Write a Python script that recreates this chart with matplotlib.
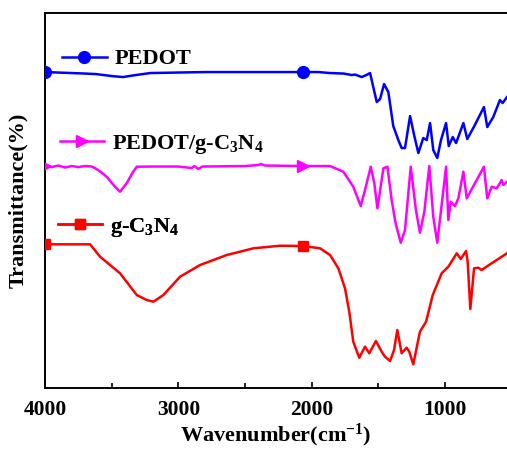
import matplotlib
matplotlib.use('Agg')
import matplotlib.pyplot as plt
import numpy as np

plt.rcParams['font.family'] = 'Liberation Serif'
plt.rcParams['font.weight'] = 'bold'
plt.rcParams['mathtext.fontset'] = 'custom'
plt.rcParams['mathtext.rm'] = 'Liberation Serif:bold'
plt.rcParams['mathtext.bf'] = 'Liberation Serif:bold'
plt.rcParams['mathtext.it'] = 'Liberation Serif:bold:italic'
plt.rcParams['mathtext.default'] = 'bf'

# FTIR spectra, stacked (arbitrary transmittance units)
PEDOT_WN = [4000, 3900, 3800, 3700, 3620, 3500, 3415, 3320, 3210, 3000, 2800, 2500,
            2300, 2065, 1950, 1862, 1760, 1700, 1675, 1625, 1590, 1562, 1512, 1487,
            1457, 1425, 1388, 1350, 1325, 1300, 1262, 1230, 1200, 1163, 1137, 1112,
            1088, 1058, 1030, 992, 972, 942, 917, 862, 833, 780, 708, 683, 638, 588,
            568, 535]
PEDOT_T = [316, 315.5, 315, 314.5, 314, 312, 311, 313, 315, 315.5, 316, 316,
           316, 316, 316, 315, 314.5, 313, 313.5, 311, 313, 315, 286, 289,
           304, 296, 262, 248, 240, 240, 272, 252, 235, 250, 248, 265,
           238, 230, 248, 265, 242, 251, 245, 265, 249, 262, 281, 261, 271, 288,
           285, 291]

COMP_WN = [4000, 3950, 3900, 3850, 3800, 3750, 3700, 3650, 3625, 3580, 3535, 3480,
           3437, 3387, 3340, 3312, 3200, 3000, 2900, 2880, 2850, 2820, 2500, 2400,
           2380, 2350, 2065, 1950, 1862, 1762, 1688, 1632, 1600, 1557, 1530, 1507,
           1462, 1432, 1400, 1375, 1367, 1332, 1300, 1257, 1218, 1188, 1155, 1118,
           1088, 1058, 992, 975, 957, 925, 900, 862, 837, 708, 683, 650, 612, 575,
           562, 535]
COMP_T = [222, 221, 222.5, 220.5, 222, 221, 222, 221.5, 220, 216, 211, 202,
          196.3, 205, 216, 221.3, 221.5, 221.5, 220, 222, 219, 221.5, 222, 223,
          224, 222.5, 222, 222, 222, 216.3, 201.3, 182, 198, 221.3, 204.7, 179.7,
          219.7, 221.3, 188, 168, 163, 145.3, 158, 221.3, 178, 155.3, 176.3, 222,
          171.3, 145.3, 221.3, 168, 186.3, 182, 189.7, 216.3, 189.7, 221.3, 189.7, 201.3, 199.7, 208,
          203, 206.3]

GCN_WN = [4000, 3662, 3587, 3437, 3312, 3237, 3187, 3112, 2987, 2837, 2637, 2437,
          2237, 2065, 1937, 1862, 1800, 1750, 1718, 1688, 1643, 1600, 1568, 1518,
          1475, 1450, 1412, 1382, 1358, 1325, 1288, 1268, 1238, 1188, 1142, 1092,
          1025, 975, 912, 882, 842, 830, 810, 782, 750, 725, 662, 612, 535]
GCN_T = [143.7, 143.7, 131.3, 114.7, 93, 88, 86.3, 93, 111.3, 123, 133, 139.7,
         142.3, 142, 139.7, 133, 119.7, 99.7, 76.3, 46.3, 30.3, 41.3, 34.7, 47,
         36.3, 31.3, 27, 38, 58, 34.7, 40.3, 36.3, 23.7, 56.3, 66.3, 93,
         114.7, 121.3, 134.7, 129, 137, 126.3, 79, 119.7, 120.3, 118, 123.7, 128, 134.7]

LABELS = ['PEDOT', r'PEDOT/g-C$_3$N$_4$', r'g-C$_3$N$_4$']
COLORS = ['#0000ff', '#ff00ff', '#ff0000']
MARKERS = ['o', '>', 's']
MARK_WN = [4000, 2065]

fig = plt.figure(figsize=(5.07, 4.49), dpi=100)
ax = fig.add_axes([0.0888, 0.1359, 0.9112, 0.835])

series = [(PEDOT_WN, PEDOT_T), (COMP_WN, COMP_T), (GCN_WN, GCN_T)]
anchors = [(0.037, 0.877), (0.032, 0.650), (0.028, 0.428)]
msizes = [8.5, 8.5, 7.5]

for (wn, t), lab, col, mk, ms, anc in zip(series, LABELS, COLORS, MARKERS, msizes, anchors):
    marks = [wn.index(w) for w in MARK_WN]
    line, = ax.plot(wn, t, color=col, lw=1.8, marker=mk, ms=ms,
                    markevery=marks, zorder=3)
    leg = ax.legend([line], [lab], loc='center left', bbox_to_anchor=anc,
                    frameon=False, borderpad=0, borderaxespad=0,
                    handlelength=2.0, handletextpad=0.35,
                    prop={'weight': 'bold', 'size': 16})
    ax.add_artist(leg)

ax.set_xlim(4000, 535)
ax.set_ylim(0, 375)
ax.set_xticks([4000, 3000, 2000, 1000])
ax.set_xticks([3500, 2500, 1500], minor=True)
ax.set_yticks([])
ax.tick_params(axis='x', which='both', direction='in', width=1.2, pad=9,
               labelsize=15.5)
ax.tick_params(axis='x', which='major', length=4.5)
ax.tick_params(axis='x', which='minor', length=3.5)
for side in ['left', 'top', 'bottom']:
    ax.spines[side].set_linewidth(1.4)
ax.spines['right'].set_visible(False)

ax.set_xlabel('Wavenumber(cm$^{-1}$)', fontsize=16, fontweight='bold', labelpad=1)
ax.set_ylabel('Transmittance(%)', fontsize=16, fontweight='bold', labelpad=12)

fig.savefig('out.png', dpi=100)
